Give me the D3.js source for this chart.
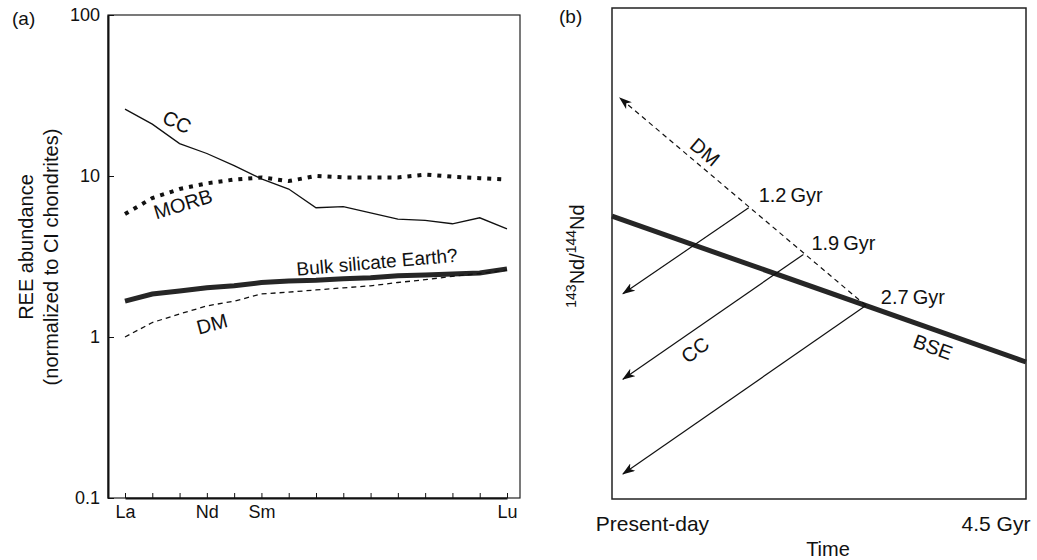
<!DOCTYPE html>
<html>
<head>
<meta charset="utf-8">
<script src="https://cdn.jsdelivr.net/npm/d3@7"></script>
<style>
    body { margin: 0; background: #fff; }
    svg { font-family: "Liberation Sans", Arial, Helvetica, sans-serif; fill: #111; }
    .axis path, .axis line { stroke: #111; }
    .axis text { fill: #111; }
</style>
</head>
<body>
<div class="chart"></div>
<script>
// Panel (a) data: REE patterns, normalized to CI chondrites
let reeElements = ["La", "Ce", "Pr", "Nd", "Pm", "Sm", "Eu", "Gd", "Tb", "Dy", "Ho", "Er", "Tm", "Yb", "Lu"];
let reeShown = ["La", "Nd", "Sm", "Lu"];
let ccValues = [26, 21, 15.9, 13.8, 11.6, 9.6, 8.3, 6.35, 6.45, 5.9, 5.4, 5.3, 5.05, 5.5, 4.7];
let morbValues = [5.8, 7.3, 8.3, 9.0, 9.5, 9.8, 9.3, 10.0, 9.8, 9.8, 9.8, 10.2, 9.9, 9.7, 9.5];
let bseValues = [1.67, 1.85, 1.93, 2.02, 2.08, 2.18, 2.23, 2.25, 2.3, 2.33, 2.4, 2.43, 2.46, 2.5, 2.65];
let dmValues = [1.0, 1.23, 1.39, 1.56, 1.67, 1.85, 1.9, 1.96, 2.02, 2.08, 2.18, 2.27, 2.38, 2.48, 2.6];
let yTicksA = [0.1, 1, 10, 100];

// Panel (b) data: schematic Nd evolution (time in Gyr, ratio in arbitrary units)
let extractionAges = [1.2, 1.9, 2.7];
let extractionValues = [59.3, 49.8, 39.4];
let ccPresentValues = [41.8, 24.4, 5.1];
let ccPresentAge = -0.41;
let dmTip = { age: -0.45, value: 81.7 };
let bseAges = [-0.55, 4.75];
let bseRatio = [57.6, 27.9];
let timeTicks = [0, 4.5];
let timeTickLabels = ["Present-day", "4.5 Gyr"];

let svgWidth = 1037;
let svgHeight = 560;

let svg = d3.select(".chart")
    .append("svg")
    .attr("width", svgWidth)
    .attr("height", svgHeight);

// ---------- Panel (a) ----------
let marginA = { left: 108, top: 15 };
let widthA = 412;
let heightA = 483;

let gA = svg.append("g")
    .attr("transform", `translate(${marginA.left}, ${marginA.top})`);

let xA = d3.scalePoint()
    .domain(reeElements)
    .range([17, 399]);

let yA = d3.scaleLog()
    .domain([0.1, 100])
    .range([heightA, 0]);

gA.append("rect")
    .attr("width", widthA)
    .attr("height", heightA)
    .attr("fill", "none")
    .attr("stroke", "#222")
    .attr("stroke-width", 1.2);

let bottomAxisA = d3.axisBottom(xA)
    .tickSizeInner(-5)
    .tickSizeOuter(0)
    .tickPadding(7)
    .tickFormat(d => reeShown.includes(d) ? d : "");

gA.append("g")
    .attr("class", "axis")
    .attr("transform", `translate(0, ${heightA})`)
    .call(bottomAxisA)
    .call(g => g.select(".domain").attr("stroke-width", 2))
    .selectAll("text")
    .style("font-size", "18px");

let leftAxisA = d3.axisLeft(yA)
    .tickValues(yTicksA)
    .tickSizeInner(-6)
    .tickSizeOuter(0)
    .tickPadding(8)
    .tickFormat(d => d < 1 ? "0.1" : d3.format("d")(d));

gA.append("g")
    .attr("class", "axis")
    .call(leftAxisA)
    .call(g => g.select(".domain").attr("stroke-width", 2))
    .selectAll("text")
    .style("font-size", "18px");

let lineA = d3.line()
    .x((d, i) => xA(reeElements[i]))
    .y(d => yA(d));

gA.append("path")
    .datum(bseValues)
    .attr("d", lineA)
    .attr("fill", "none")
    .attr("stroke", "#262626")
    .attr("stroke-width", 5);

gA.append("path")
    .datum(dmValues)
    .attr("d", lineA)
    .attr("fill", "none")
    .attr("stroke", "#111")
    .attr("stroke-width", 1.3)
    .attr("stroke-dasharray", "5,4");

gA.append("path")
    .datum(ccValues)
    .attr("d", lineA)
    .attr("fill", "none")
    .attr("stroke", "#111")
    .attr("stroke-width", 1.3);

gA.append("path")
    .datum(morbValues)
    .attr("d", lineA)
    .attr("fill", "none")
    .attr("stroke", "#111")
    .attr("stroke-width", 4)
    .attr("stroke-dasharray", "4,6");

// Curve labels, panel (a)
let labelsA = [
    { text: "CC", x: 177, y: 122, rot: 25, size: 20 },
    { text: "MORB", x: 183, y: 204, rot: -17, size: 20 },
    { text: "Bulk silicate Earth?", x: 377, y: 262, rot: -5, size: 19 },
    { text: "DM", x: 212, y: 324, rot: -15, size: 20 }
];

svg.selectAll(".label-a")
    .data(labelsA)
    .enter()
    .append("text")
    .attr("class", "label-a")
    .attr("transform", d => `translate(${d.x}, ${d.y}) rotate(${d.rot})`)
    .attr("text-anchor", "middle")
    .attr("dy", "0.35em")
    .style("font-size", d => d.size + "px")
    .text(d => d.text);

svg.append("text")
    .attr("transform", "translate(33, 247) rotate(-90)")
    .attr("text-anchor", "middle")
    .style("font-size", "20px")
    .text("REE abundance");

svg.append("text")
    .attr("transform", "translate(58, 257) rotate(-90)")
    .attr("text-anchor", "middle")
    .style("font-size", "20px")
    .text("(normalized to CI chondrites)");

svg.append("text")
    .attr("x", 12)
    .attr("y", 25)
    .style("font-size", "19px")
    .text("(a)");

// ---------- Panel (b) ----------
let marginB = { left: 612, top: 8 };
let widthB = 414;
let heightB = 491;

let gB = svg.append("g")
    .attr("transform", `translate(${marginB.left}, ${marginB.top})`);

let xB = d3.scaleLinear()
    .domain([-0.55, 4.75])
    .range([0, widthB]);

let yB = d3.scaleLinear()
    .domain([0, 100])
    .range([heightB, 0]);

svg.append("defs")
    .append("marker")
    .attr("id", "arrow")
    .attr("viewBox", "0 0 13 9")
    .attr("refX", 12)
    .attr("refY", 4.5)
    .attr("markerWidth", 13)
    .attr("markerHeight", 9)
    .attr("markerUnits", "userSpaceOnUse")
    .attr("orient", "auto")
    .append("path")
    .attr("d", "M0,0 L13,4.5 L0,9 L3.5,4.5 Z")
    .attr("fill", "#111");

gB.append("rect")
    .attr("width", widthB)
    .attr("height", heightB)
    .attr("fill", "none")
    .attr("stroke", "#222")
    .attr("stroke-width", 1.5);

let bottomAxisB = d3.axisBottom(xB)
    .tickValues(timeTicks)
    .tickSize(0)
    .tickPadding(17)
    .tickFormat((d, i) => timeTickLabels[i]);

gB.append("g")
    .attr("class", "axis")
    .attr("transform", `translate(0, ${heightB})`)
    .call(bottomAxisB)
    .call(g => g.select(".domain").remove())
    .selectAll("text")
    .style("font-size", "21px")
    .attr("dx", (d, i) => i === 0 ? -3 : -11);

// BSE reference line
let bsePoints = bseAges.map((a, i) => ({ age: a, value: bseRatio[i] }));
let lineB = d3.line()
    .x(d => xB(d.age))
    .y(d => yB(d.value));

gB.append("path")
    .datum(bsePoints)
    .attr("d", lineB)
    .attr("fill", "none")
    .attr("stroke", "#262626")
    .attr("stroke-width", 5);

// DM evolution (dashed, towards present-day)
let dmPoints = [
    { age: extractionAges[2], value: extractionValues[2] },
    dmTip
];

gB.append("path")
    .datum(dmPoints)
    .attr("d", lineB)
    .attr("fill", "none")
    .attr("stroke", "#111")
    .attr("stroke-width", 1.2)
    .attr("stroke-dasharray", "5,4")
    .attr("marker-end", "url(#arrow)");

// CC evolution lines, one per extraction age
let ccLines = extractionAges.map((a, i) => [
    { age: a, value: extractionValues[i] },
    { age: ccPresentAge, value: ccPresentValues[i] }
]);

gB.selectAll(".cc-line")
    .data(ccLines)
    .enter()
    .append("path")
    .attr("class", "cc-line")
    .attr("d", lineB)
    .attr("fill", "none")
    .attr("stroke", "#111")
    .attr("stroke-width", 1.2)
    .attr("marker-end", "url(#arrow)");

// Age labels at the extraction points
let ageOffsets = [[10, -6], [8, -4], [15, -2]];
gB.selectAll(".age-label")
    .data(extractionAges)
    .enter()
    .append("text")
    .attr("class", "age-label")
    .attr("x", (d, i) => xB(d) + ageOffsets[i][0])
    .attr("y", (d, i) => yB(extractionValues[i]) + ageOffsets[i][1])
    .style("font-size", "20px")
    .text(d => `${d}\u2009Gyr`);

let labelsB = [
    { text: "DM", x: 705, y: 152, rot: 40 },
    { text: "CC", x: 695, y: 350, rot: -37 },
    { text: "BSE", x: 933, y: 347, rot: 20 }
];

svg.selectAll(".label-b")
    .data(labelsB)
    .enter()
    .append("text")
    .attr("class", "label-b")
    .attr("transform", d => `translate(${d.x}, ${d.y}) rotate(${d.rot})`)
    .attr("text-anchor", "middle")
    .attr("dy", "0.35em")
    .style("font-size", "20px")
    .text(d => d.text);

let yTitleB = svg.append("text")
    .attr("transform", "translate(584, 256) rotate(-90)")
    .attr("text-anchor", "middle")
    .style("font-size", "20px");
yTitleB.append("tspan").attr("baseline-shift", "super").style("font-size", "14px").text("143");
yTitleB.append("tspan").text("Nd/");
yTitleB.append("tspan").attr("baseline-shift", "super").style("font-size", "14px").text("144");
yTitleB.append("tspan").text("Nd");

svg.append("text")
    .attr("x", 828)
    .attr("y", 556)
    .attr("text-anchor", "middle")
    .style("font-size", "20px")
    .text("Time");

svg.append("text")
    .attr("x", 559)
    .attr("y", 23)
    .style("font-size", "19px")
    .text("(b)");
</script>
</body>
</html>
